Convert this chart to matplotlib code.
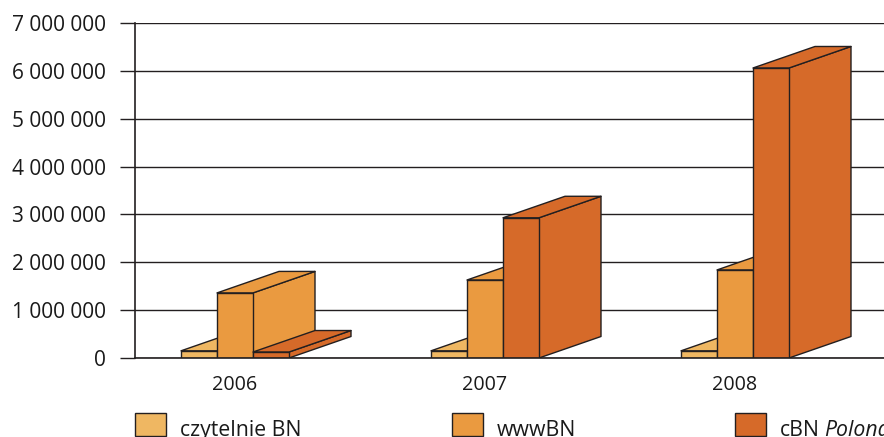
import matplotlib
matplotlib.use('Agg')
import matplotlib.pyplot as plt
from matplotlib.patches import Polygon, Rectangle

plt.rcParams['font.family'] = ['Open Sans', 'DejaVu Sans']
plt.rcParams['font.size'] = 14

W, H = 884, 437

# data
years = ['2006', '2007', '2008']
czytelnie = [150000, 150000, 150000]
wwwbn = [1360000, 1630000, 1840000]
cbn = [125000, 2930000, 6060000]

yticks = [0, 1000000, 2000000, 3000000, 4000000, 5000000, 6000000, 7000000]
ylabels = ['0', '1 000 000', '2 000 000', '3 000 000', '4 000 000',
           '5 000 000', '6 000 000', '7 000 000']

col_light = '#EFB762'
col_mid = '#EA9A40'
col_dark = '#D66A29'
edge = '#231F20'

fig = plt.figure(figsize=(W / 100, H / 100), dpi=100)
ax = fig.add_axes([135 / W, 1 - 358 / H, (W - 135) / W, 335 / H])

# 250 px between groups, middle bar of the first group centred at px 235
ax.set_xlim(-0.4, (W - 235) / 250)
ax.set_ylim(0, 7000000)

bar_w = 36 / 250
dx = 62 / 250
dy = 21.5 / 335 * 7000000


def bar3d(x, h, color):
    # front, side and top faces of one box
    x0 = x - bar_w / 2
    x1 = x + bar_w / 2
    faces = [
        [(x1, 0), (x1 + dx, dy), (x1 + dx, h + dy), (x1, h)],
        [(x0, h), (x0 + dx, h + dy), (x1 + dx, h + dy), (x1, h)],
        [(x0, 0), (x1, 0), (x1, h), (x0, h)],
    ]
    for f in faces:
        ax.add_patch(Polygon(f, closed=True, facecolor=color, edgecolor=edge,
                             linewidth=1.0, joinstyle='round', zorder=3))


for i in range(len(years)):
    bar3d(i - bar_w, czytelnie[i], col_light)
    bar3d(i, wwwbn[i], col_mid)
    bar3d(i + bar_w, cbn[i], col_dark)

ax.set_yticks(yticks)
ax.set_yticklabels(ylabels, fontsize=15)
ax.set_xticks(range(len(years)))
ax.set_xticklabels(years, fontsize=14.2)
ax.grid(axis='y', color=edge, linewidth=1.0, zorder=1)
ax.set_axisbelow(True)
ax.tick_params(axis='y', length=11, width=1.0, color=edge, pad=10, labelcolor='#1a1a1a')
ax.tick_params(axis='x', length=0, pad=12, labelcolor='#1a1a1a')
for s in ['top', 'right']:
    ax.spines[s].set_visible(False)
for s in ['left', 'bottom']:
    ax.spines[s].set_color(edge)
    ax.spines[s].set_linewidth(1.2)
ax.spines['bottom'].set_zorder(4)

# legend, placed by hand like the original
leg_x = [135, 452, 735]
leg_col = [col_light, col_mid, col_dark]
leg_txt = ['czytelnie BN', 'wwwBN', 'cBN']
for x, c, t in zip(leg_x, leg_col, leg_txt):
    fig.add_artist(Rectangle((x / W, 1 - 436 / H), 31 / W, 23 / H,
                             transform=fig.transFigure, facecolor=c,
                             edgecolor=edge, linewidth=1.0))
    fig.text((x + 45) / W, 1 - 436 / H, t, ha='left', va='baseline',
             color='#1a1a1a', fontsize=15.3)
fig.text(824 / W, 1 - 436 / H, 'Polona', ha='left', va='baseline',
         color='#1a1a1a', fontsize=15.3, style='italic')

fig.savefig('out.png', dpi=100)
